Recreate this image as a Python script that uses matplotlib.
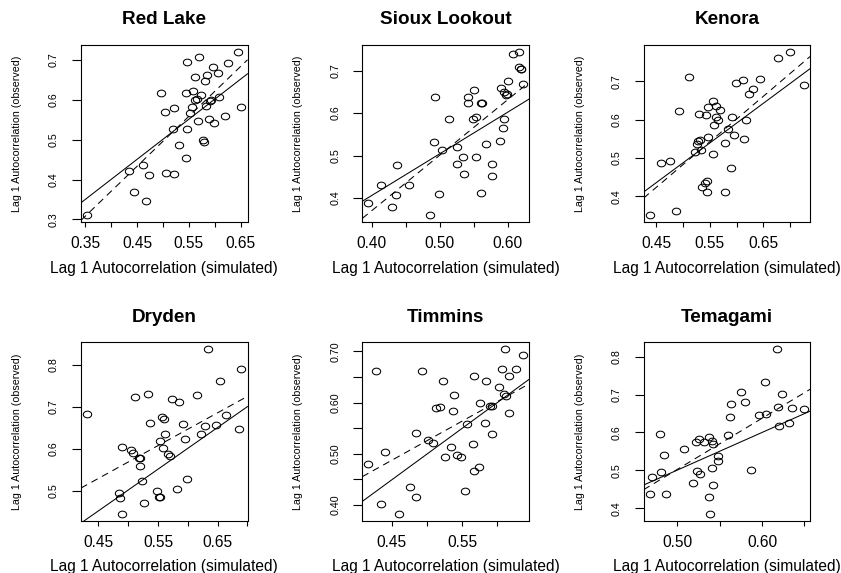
import numpy as np
import matplotlib
matplotlib.use("Agg")
import matplotlib.pyplot as plt
from matplotlib.path import Path
from matplotlib import font_manager as fm

# ---------------- data ----------------
titles = ["Red Lake", "Sioux Lookout", "Kenora", "Dryden", "Timmins", "Temagami"]
xlabel_text = "Lag 1 Autocorrelation (simulated)"
ylabel_text = "Lag 1 Autocorrelation (observed)"

red_lake_sim = [0.354, 0.434, 0.4435, 0.461, 0.473, 0.467, 0.497, 0.503, 0.505, 0.521, 0.521,
                0.520, 0.530, 0.545, 0.547, 0.544, 0.547, 0.552, 0.556, 0.557, 0.561, 0.561,
                0.567, 0.566, 0.569, 0.574, 0.578, 0.580, 0.581, 0.583, 0.584, 0.589, 0.590,
                0.592, 0.596, 0.599, 0.607, 0.608, 0.619, 0.625, 0.645, 0.651]
red_lake_obs = [0.310, 0.4225, 0.369, 0.4375, 0.411, 0.347, 0.617, 0.569, 0.416, 0.413, 0.580,
                0.528, 0.487, 0.455, 0.528, 0.616, 0.696, 0.568, 0.581, 0.623, 0.656, 0.600,
                0.548, 0.603, 0.708, 0.613, 0.498, 0.493, 0.648, 0.585, 0.662, 0.552, 0.598,
                0.600, 0.683, 0.542, 0.666, 0.606, 0.559, 0.693, 0.721, 0.581]

sioux_sim = [0.395, 0.413, 0.430, 0.435, 0.437, 0.455, 0.485, 0.492, 0.493, 0.499, 0.503,
             0.513, 0.525, 0.526, 0.534, 0.535, 0.542, 0.542, 0.550, 0.549, 0.554, 0.554,
             0.560, 0.561, 0.562, 0.568, 0.588, 0.577, 0.577, 0.590, 0.594, 0.593, 0.595,
             0.597, 0.599, 0.601, 0.608, 0.617, 0.617, 0.619, 0.620, 0.622]
sioux_obs = [0.389, 0.431, 0.380, 0.408, 0.478, 0.431, 0.359, 0.533, 0.639, 0.409, 0.512,
             0.587, 0.520, 0.481, 0.496, 0.456, 0.637, 0.625, 0.655, 0.586, 0.590, 0.497,
             0.412, 0.624, 0.625, 0.527, 0.534, 0.481, 0.451, 0.659, 0.586, 0.564, 0.650,
             0.642, 0.644, 0.675, 0.740, 0.745, 0.709, 0.705, 0.704, 0.668]

kenora_sim = [0.4375, 0.458, 0.475, 0.487, 0.4925, 0.511, 0.5225, 0.5256, 0.5275, 0.529, 0.531,
              0.534, 0.535, 0.540, 0.542, 0.544, 0.544, 0.546, 0.547, 0.555, 0.556, 0.5575,
              0.561, 0.562, 0.566, 0.569, 0.579, 0.579, 0.583, 0.589, 0.591, 0.596, 0.598,
              0.612, 0.613, 0.618, 0.6225, 0.630, 0.644, 0.677, 0.699, 0.726]
kenora_obs = [0.350, 0.487, 0.493, 0.362, 0.623, 0.711, 0.516, 0.537, 0.545, 0.614, 0.548,
              0.520, 0.425, 0.436, 0.612, 0.441, 0.412, 0.632, 0.555, 0.510, 0.650, 0.587,
              0.606, 0.637, 0.598, 0.625, 0.539, 0.411, 0.577, 0.474, 0.608, 0.561, 0.697,
              0.705, 0.550, 0.600, 0.666, 0.681, 0.706, 0.760, 0.778, 0.690]

dryden_sim = [0.431, 0.484, 0.486, 0.489, 0.489, 0.5045, 0.5085, 0.511, 0.5175, 0.520, 0.520,
              0.523, 0.527, 0.534, 0.536, 0.549, 0.552, 0.554, 0.554, 0.558, 0.557, 0.5605,
              0.561, 0.567, 0.5695, 0.573, 0.582, 0.585, 0.592, 0.596, 0.598, 0.616, 0.623,
              0.629, 0.6345, 0.6475, 0.655, 0.665, 0.686, 0.690]
dryden_obs = [0.682, 0.494, 0.482, 0.444, 0.605, 0.598, 0.590, 0.722, 0.578, 0.578, 0.558,
              0.523, 0.470, 0.729, 0.662, 0.500, 0.486, 0.486, 0.618, 0.602, 0.675, 0.670,
              0.634, 0.587, 0.582, 0.719, 0.504, 0.710, 0.658, 0.624, 0.528, 0.728, 0.634,
              0.654, 0.838, 0.656, 0.761, 0.681, 0.646, 0.790]

timmins_sim = [0.417, 0.428, 0.435, 0.441, 0.460, 0.476, 0.485, 0.4845, 0.493, 0.502, 0.508,
               0.513, 0.518, 0.523, 0.5255, 0.5345, 0.537, 0.538, 0.5425, 0.549, 0.554, 0.557,
               0.566, 0.5665, 0.567, 0.5745, 0.575, 0.582, 0.5835, 0.590, 0.592, 0.592, 0.603,
               0.607, 0.609, 0.611, 0.613, 0.616, 0.617, 0.626, 0.636]
timmins_obs = [0.480, 0.661, 0.403, 0.503, 0.382, 0.436, 0.416, 0.541, 0.662, 0.527, 0.522,
               0.589, 0.591, 0.642, 0.493, 0.513, 0.584, 0.615, 0.497, 0.493, 0.427, 0.559,
               0.520, 0.467, 0.652, 0.475, 0.600, 0.560, 0.641, 0.593, 0.593, 0.539, 0.631,
               0.665, 0.616, 0.705, 0.612, 0.579, 0.651, 0.665, 0.692]

temagami_sim = [0.4673, 0.470, 0.479, 0.480, 0.4846, 0.486, 0.508, 0.518, 0.5224, 0.5236,
                0.5256, 0.527, 0.532, 0.537, 0.5378, 0.5386, 0.5406, 0.541, 0.5417, 0.5425,
                0.5484, 0.5484, 0.5594, 0.562, 0.5638, 0.5752, 0.580, 0.5866, 0.596, 0.6035,
                0.6047, 0.6177, 0.6193, 0.6205, 0.624, 0.6323, 0.6358, 0.6496]
temagami_obs = [0.437, 0.4836, 0.5956, 0.497, 0.540, 0.438, 0.5556, 0.468, 0.574, 0.4987,
                0.583, 0.4916, 0.575, 0.5876, 0.430, 0.384, 0.5787, 0.506, 0.462, 0.5707,
                0.5387, 0.526, 0.592, 0.641, 0.6747, 0.7076, 0.679, 0.5013, 0.646, 0.732,
                0.648, 0.821, 0.6684, 0.6178, 0.701, 0.625, 0.664, 0.661]

# fitted lines: [intercept, slope]
red_lake_solid, red_lake_dashed = [-0.003, 1.008], [-0.1316, 1.255]
sioux_solid, sioux_dashed = [0.0142, 0.980], [-0.152, 1.306]
kenora_solid, kenora_dashed = [-0.0293, 1.034], [-0.1104, 1.187]
dryden_solid, dryden_dashed = [0.0069, 0.990], [0.179, 0.779]
timmins_solid, timmins_dashed = [-0.0026, 1.004], [0.144, 0.763]
temagami_solid, temagami_dashed = [0.0059, 0.990], [-0.1697, 1.345]

# axis ticks (values) and which ones carry labels
red_lake_xticks = [0.35, 0.40, 0.45, 0.50, 0.55, 0.60, 0.65]
red_lake_xlabels = ["0.35", "", "0.45", "", "0.55", "", "0.65"]
red_lake_yticks = [0.3, 0.4, 0.5, 0.6, 0.7]
red_lake_ylabels = ["0.3", "0.4", "0.5", "0.6", "0.7"]

sioux_xticks = [0.40, 0.45, 0.50, 0.55, 0.60]
sioux_xlabels = ["0.40", "", "0.50", "", "0.60"]
sioux_yticks = [0.4, 0.5, 0.6, 0.7]
sioux_ylabels = ["0.4", "0.5", "0.6", "0.7"]

kenora_xticks = [0.45, 0.50, 0.55, 0.60, 0.65, 0.70]
kenora_xlabels = ["0.45", "", "0.55", "", "0.65", ""]
kenora_yticks = [0.4, 0.5, 0.6, 0.7]
kenora_ylabels = ["0.4", "0.5", "0.6", "0.7"]

dryden_xticks = [0.45, 0.50, 0.55, 0.60, 0.65, 0.70]
dryden_xlabels = ["0.45", "", "0.55", "", "0.65", ""]
dryden_yticks = [0.5, 0.6, 0.7, 0.8]
dryden_ylabels = ["0.5", "0.6", "0.7", "0.8"]

timmins_xticks = [0.45, 0.50, 0.55, 0.60]
timmins_xlabels = ["0.45", "", "0.55", ""]
timmins_yticks = [0.40, 0.45, 0.50, 0.55, 0.60, 0.65, 0.70]
timmins_ylabels = ["0.40", "", "0.50", "", "0.60", "", "0.70"]

temagami_xticks = [0.50, 0.55, 0.60, 0.65]
temagami_xlabels = ["0.50", "", "0.60", ""]
temagami_yticks = [0.4, 0.5, 0.6, 0.7, 0.8]
temagami_ylabels = ["0.4", "0.5", "0.6", "0.7", "0.8"]

panels = [
    (red_lake_sim, red_lake_obs, red_lake_solid, red_lake_dashed,
     red_lake_xticks, red_lake_xlabels, red_lake_yticks, red_lake_ylabels),
    (sioux_sim, sioux_obs, sioux_solid, sioux_dashed,
     sioux_xticks, sioux_xlabels, sioux_yticks, sioux_ylabels),
    (kenora_sim, kenora_obs, kenora_solid, kenora_dashed,
     kenora_xticks, kenora_xlabels, kenora_yticks, kenora_ylabels),
    (dryden_sim, dryden_obs, dryden_solid, dryden_dashed,
     dryden_xticks, dryden_xlabels, dryden_yticks, dryden_ylabels),
    (timmins_sim, timmins_obs, timmins_solid, timmins_dashed,
     timmins_xticks, timmins_xlabels, timmins_yticks, timmins_ylabels),
    (temagami_sim, temagami_obs, temagami_solid, temagami_dashed,
     temagami_xticks, temagami_xlabels, temagami_yticks, temagami_ylabels),
]

# ---------------- style ----------------
plt.rcParams["font.family"] = ["Liberation Sans", "DejaVu Sans"]
plt.rcParams["lines.scale_dashes"] = False

font_names = {f.name for f in fm.fontManager.ttflist}
if "Liberation Sans Narrow" in font_names:
    rot_family, rot_size = ["Liberation Sans Narrow", "Liberation Sans"], 9.0
else:
    rot_family, rot_size = ["Liberation Sans", "DejaVu Sans"], 7.7

W, H = 841, 573
fig = plt.figure(figsize=(W / 100, H / 100), dpi=100)

cols_left = [81, 362.3, 643.6]
box_w = 166.5
rows_top = [45, 342]
rows_h = [177, 179]

theta = np.linspace(0, 2 * np.pi, 73)
ellipse = Path(np.column_stack([np.cos(theta), 0.8 * np.sin(theta)]))

LW = 0.75
for i, (sim, obs, solid, dashed, xt, xl, yt, yl) in enumerate(panels):
    r, c = divmod(i, 3)
    left, top, h = cols_left[c], rows_top[r], rows_h[r]
    ax = fig.add_axes([left / W, (H - top - h) / H, box_w / W, h / H])
    sim = np.asarray(sim)
    obs = np.asarray(obs)
    ax.plot(sim, obs, linestyle="none", marker=ellipse, markersize=6.0,
            markerfacecolor="none", markeredgecolor="black", markeredgewidth=0.75)
    ax.axline((sim.mean(), solid[0] + solid[1] * sim.mean()), slope=solid[1],
              color="black", lw=LW)
    ax.axline((sim.mean(), dashed[0] + dashed[1] * sim.mean()), slope=dashed[1],
              color="black", lw=LW, linestyle=(0, (5, 3.6)))
    # R-style 4% padding
    xs = sim.max() - sim.min()
    ys = obs.max() - obs.min()
    ax.set_xlim(sim.min() - 0.04 * xs, sim.max() + 0.04 * xs)
    ax.set_ylim(obs.min() - 0.04 * ys, obs.max() + 0.04 * ys)

    for sp in ax.spines.values():
        sp.set_linewidth(0.8)
        sp.set_color("black")

    ax.set_xticks(xt)
    ax.set_xticklabels(xl, fontsize=11.2)
    for lab in ax.get_xticklabels():
        lab.set_va("center")
    ax.set_yticks(yt)
    ax.set_yticklabels(yl, rotation=90, va="center", ha="center",
                       fontsize=rot_size, family=rot_family)
    ax.tick_params(axis="x", direction="out", length=3.8, width=0.8, pad=11.5)
    ax.tick_params(axis="y", direction="out", length=6.5, width=0.8, pad=13.0)

    ax.set_xlabel(xlabel_text, fontsize=11.2)
    ax.xaxis.set_label_coords(0.5, -46.0 / h)
    ax.xaxis.label.set_va("center")
    ax.set_ylabel(ylabel_text, fontsize=rot_size, family=rot_family)
    ax.yaxis.set_label_coords(-64.0 / box_w, 0.5)
    ax.yaxis.label.set_va("center")

    ax.text(0.5, 1 + 25.0 / h, titles[i], transform=ax.transAxes, ha="center",
            va="center", fontsize=13.6, fontweight="bold")

fig.savefig("out.png", dpi=100)
